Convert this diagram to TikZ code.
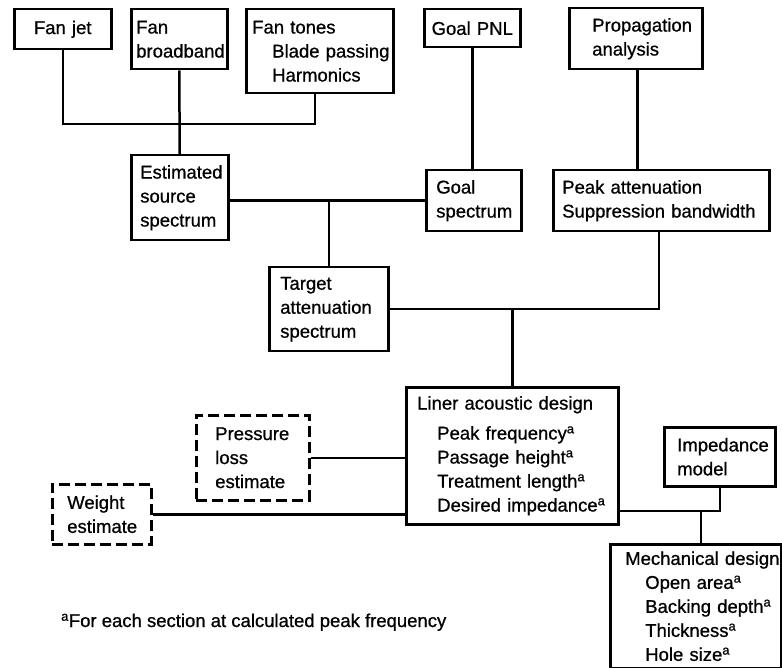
\documentclass[tikz,border=0pt]{standalone}
\usepackage{fontspec}
\setmainfont{Liberation Sans}[RawFeature={embolden=0.8}]
\newcommand\fs{\fontsize{18.5}{24}\selectfont\hyphenpenalty=10000\exhyphenpenalty=10000}
\newcommand\ind{\hspace*{20pt}}
\tikzset{
  box/.style={draw, line width=2.5pt, anchor=north west, align=left, inner ysep=2pt, font=\fs},
  dbox/.style={box, dash pattern=on 11pt off 5pt},
  conn/.style={line width=2.5pt},
}
\begin{document}
\begin{tikzpicture}[x=1pt,y=-1pt]
\useasboundingbox (0,0) rectangle (782,668);
\node[box, align=center, minimum width=97, minimum height=40, inner xsep=5, text width=87] (jet) at (13,8) {Fan~jet};
\node[box, minimum width=96, minimum height=60, inner xsep=5, text width=86] (bb) at (130,8) {Fan\\broadband};
\node[box, minimum width=147, minimum height=84, inner xsep=6, text width=135] (tones) at (245,8) {Fan~tones\\\ind Blade~passing\\\ind Harmonics};
\node[box, minimum width=97, minimum height=85, inner xsep=9, text width=79] (est) at (130,154) {Estimated\\source\\spectrum};
\node[box, align=center, minimum width=96, minimum height=38, inner xsep=5, text width=86] (pnl) at (423,8) {Goal~PNL};
\node[box, minimum width=95, minimum height=61, inner xsep=10, text width=75] (goal) at (425,169) {Goal\\spectrum};
\node[box, minimum width=133, minimum height=61, inner xsep=23, text width=87] (prop) at (568,7) {Propagation\\analysis};
\node[box, minimum width=216, minimum height=61, inner xsep=9, text width=198] (peak) at (552,169) {Peak~attenuation\\Suppression~bandwidth};
\node[box, minimum width=119, minimum height=84, inner xsep=11, text width=97] (target) at (268,266) {Target\\attenuation\\spectrum};
\node[box, minimum width=212, minimum height=137, inner xsep=11, text width=190] (liner) at (405,386) {Liner~acoustic~design\\[6pt]\ind Peak~frequency\textsuperscript{a}\\\ind Passage~height\textsuperscript{a}\\\ind Treatment~length\textsuperscript{a}\\\ind Desired~impedance\textsuperscript{a}};
\node[dbox, minimum width=113, minimum height=85, inner xsep=19, text width=75] (press) at (195,414) {Pressure\\loss\\estimate};
\node[dbox, minimum width=99, minimum height=60, inner xsep=15, text width=69] (weight) at (51,483) {Weight\\estimate};
\node[box, minimum width=111, minimum height=59, inner xsep=13, text width=85] (imp) at (663,426) {Impedance\\model};
\node[box, minimum width=171, minimum height=124, inner xsep=15, text width=141] (mech) at (609,543) {Mechanical~design\\\ind Open~area\textsuperscript{a}\\\ind Backing~depth\textsuperscript{a}\\\ind Thickness\textsuperscript{a}\\\ind Hole~size\textsuperscript{a}};
\node[anchor=base west, inner sep=0, font=\fs] (foot) at (61,627) {\textsuperscript{a}For each section at calculated peak frequency};
% connectors
\coordinate (j1) at (179,124);
\coordinate (j0) at ([yshift=-3pt]est.east);
\coordinate (j2) at (659,309);
\coordinate (j3) at ([xshift=-24pt]peak.north);
\coordinate (j4) at (701,511);
\draw[conn] (jet.south) |- (j1) -| ([xshift=-5pt]tones.south);
\draw[conn] (bb.south) -- (est.north);
\draw[conn] (j0) -- (j0 -| goal.west);
\draw[conn] (target.north) -- (target.north |- j0);
\draw[conn] (pnl.south) -- (pnl.south |- goal.north);
\draw[conn] (j3 |- prop.south) -- (j3);
\draw[conn] (peak.south -| j2) -- (j2) -- (j2 -| target.east);
\draw[conn] (liner.north) -- (liner.north |- j2);
\draw[conn] (press.east) -- (press.east -| liner.west);
\draw[conn] (weight.east) -- (weight.east -| liner.west);
\draw[conn] (liner.east |- j4) -- (j4) -- (j4 |- mech.north);
\draw[conn] (imp.south) |- (j4);
\end{tikzpicture}
\end{document}
